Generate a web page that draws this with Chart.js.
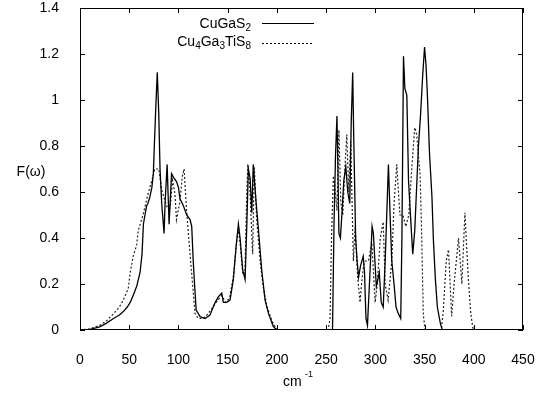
<!DOCTYPE html>
<html>
<head>
<meta charset="utf-8">
<script src="https://cdn.jsdelivr.net/npm/chart.js@4.4.1/dist/chart.umd.min.js"></script>
<style>
  html, body { margin: 0; padding: 0; background: #fff; }
  #c { display: block; }
</style>
</head>
<body>
<canvas id="c" width="539" height="394"></canvas>
<script>
// CuGaS2 (linha cheia)
const solidX = [0, 8, 12, 20, 27, 34, 40, 44, 48, 51, 54, 57.6, 61, 63, 64.4, 66, 67.7, 69, 71, 73, 74.5, 75.5, 77, 78.5, 80, 81.3, 83, 85.4, 86.4, 88.5, 90.5, 93, 95.5, 98, 100, 101.6, 105, 108.4, 111.8, 113.5, 115, 116.5, 118, 122, 127, 132, 137, 140.6, 144, 145.6, 149, 152.4, 155.8, 158.5, 160.9, 162.6, 165.3, 167.7, 169.4, 171, 172.8, 174.5, 176, 178.8, 181, 184.6, 188, 191.6, 196.4, 200,
  256.5, 258, 259.5, 261, 262, 263, 264.5, 266, 268, 270, 272, 274, 275.5, 277, 278, 280, 281.5, 283, 285, 287.7, 289, 290.5, 292, 294, 296.7, 298, 301, 304, 306, 308, 310, 313.3, 315, 316.7, 319, 321, 323.5, 325.8, 327, 328.6, 330, 332, 333.7, 335.4, 338, 340, 343.8, 346, 348, 350, 351.5, 353, 355, 357.5, 359, 361, 363, 366, 368];
const solidY = [0, 0, 0.005, 0.014, 0.03, 0.05, 0.065, 0.08, 0.1, 0.12, 0.15, 0.19, 0.25, 0.33, 0.46, 0.5, 0.54, 0.55, 0.58, 0.62, 0.68, 0.8, 0.97, 1.12, 0.94, 0.7, 0.55, 0.42, 0.55, 0.72, 0.46, 0.68, 0.66, 0.645, 0.62, 0.57, 0.54, 0.5, 0.48, 0.45, 0.3, 0.19, 0.087, 0.058, 0.05, 0.065, 0.117, 0.145, 0.16, 0.12, 0.12, 0.13, 0.22, 0.36, 0.46, 0.4, 0.26, 0.22, 0.45, 0.7, 0.66, 0.51, 0.72, 0.56, 0.45, 0.26, 0.13, 0.07, 0.015, 0,
  0, 0.45, 0.75, 0.93, 0.7, 0.42, 0.4, 0.5, 0.65, 0.71, 0.6, 0.55, 0.9, 1.12, 0.85, 0.4, 0.3, 0.23, 0.28, 0.32, 0.25, 0.05, 0.02, 0.2, 0.45, 0.42, 0.19, 0.25, 0.12, 0.1, 0.3, 0.72, 0.5, 0.3, 0.2, 0.1, 0.07, 0.05, 0.4, 1.19, 1.05, 1.02, 0.65, 0.52, 0.33, 0.43, 0.8, 0.94, 1.1, 1.23, 1.15, 1.01, 0.77, 0.58, 0.39, 0.22, 0.1, 0.03, 0];

// Cu4Ga3TiS8 (tracejado)
const dashX = [0, 10, 20, 27, 34, 40, 44, 49, 51, 54, 57.6, 59, 64, 69, 73, 76, 80, 83, 86.4, 88.7, 91.5, 94, 96.5, 98, 101.6, 104, 105.7, 108.4, 111.8, 114.5, 116.9, 120.3, 125, 130, 135, 140, 144, 148, 152, 156, 159, 161, 163, 165.5, 167.5, 169.4, 170.5, 172.5, 175.4, 177, 179.5, 183, 186, 190, 195, 200,
  252, 254, 255.5, 257.4, 259, 261, 263, 265, 267, 269, 271, 273, 275, 277.7, 279.5, 282, 284.5, 286, 288, 290, 293, 296.4, 299.8, 302, 305, 308, 310, 313, 316.7, 319, 321.8, 323.5, 325, 328, 331, 334, 337, 340, 342, 345.5, 347, 348.7, 350.5,
  367, 369, 372, 374.3, 376, 377.5, 380, 384.5, 387.9, 391, 394.5, 397, 399, 401];
const dashY = [0, 0.005, 0.02, 0.04, 0.07, 0.1, 0.13, 0.18, 0.25, 0.32, 0.37, 0.43, 0.5, 0.59, 0.65, 0.7, 0.7, 0.61, 0.56, 0.53, 0.53, 0.65, 0.59, 0.48, 0.56, 0.67, 0.7, 0.51, 0.33, 0.19, 0.07, 0.05, 0.05, 0.07, 0.1, 0.13, 0.15, 0.12, 0.14, 0.24, 0.38, 0.44, 0.36, 0.24, 0.25, 0.6, 0.72, 0.62, 0.33, 0.71, 0.48, 0.3, 0.19, 0.1, 0.04, 0,
  0, 0.05, 0.4, 0.67, 0.62, 0.52, 0.87, 0.55, 0.5, 0.7, 0.85, 0.6, 0.82, 0.3, 0.45, 0.23, 0.12, 0.2, 0.28, 0.3, 0.3, 0.38, 0.12, 0.2, 0.4, 0.47, 0.2, 0.13, 0.3, 0.55, 0.72, 0.6, 0.5, 0.5, 0.45, 0.5, 0.7, 0.88, 0.85, 0.67, 0.43, 0.07, 0,
  0, 0.08, 0.3, 0.35, 0.2, 0.06, 0.2, 0.4, 0.2, 0.51, 0.22, 0.07, 0.01, 0];

// nomes das séries (_n = subscrito)
const seriesNames = ['CuGaS_2', 'Cu_4Ga_3TiS_8'];
const xTicks = [0, 50, 100, 150, 200, 250, 300, 350, 400, 450];
const yTicks = [0, 0.2, 0.4, 0.6, 0.8, 1, 1.2, 1.4];

const FONT = '"Liberation Sans", Arial, Helvetica, sans-serif';

// escreve texto com subscritos, alinhado à direita em xRight
function drawRich(ctx, label, xRight, baseline) {
    const parts = [];
    let i = 0;
    while (i < label.length) {
        if (label[i] === '_') { parts.push({ t: label[i + 1], sub: true }); i += 2; }
        else {
            let j = i;
            while (j < label.length && label[j] !== '_') j++;
            parts.push({ t: label.slice(i, j), sub: false });
            i = j;
        }
    }
    let w = 0;
    parts.forEach(p => {
        ctx.font = (p.sub ? '10px ' : '14px ') + FONT;
        p.w = ctx.measureText(p.t).width;
        w += p.w;
    });
    let x = xRight - w;
    ctx.textAlign = 'left';
    ctx.textBaseline = 'alphabetic';
    parts.forEach(p => {
        ctx.font = (p.sub ? '10px ' : '14px ') + FONT;
        ctx.fillText(p.t, x, baseline + (p.sub ? 3 : 0));
        x += p.w;
    });
}

const moldura = {
    id: 'moldura',
    afterDraw(chart) {
        const { ctx, chartArea: a, scales: { x, y } } = chart;
        ctx.save();
        ctx.strokeStyle = '#000';
        ctx.lineWidth = 1;
        ctx.strokeRect(a.left + 0.5, a.top + 0.5, a.right - a.left - 1, a.bottom - a.top - 1);
        ctx.beginPath();
        xTicks.forEach(v => {
            const px = Math.round(x.getPixelForValue(v)) + 0.5;
            ctx.moveTo(px, a.bottom); ctx.lineTo(px, a.bottom - 5);
            ctx.moveTo(px, a.top); ctx.lineTo(px, a.top + 5);
        });
        yTicks.forEach(v => {
            const py = Math.round(y.getPixelForValue(v)) + 0.5;
            ctx.moveTo(a.left, py); ctx.lineTo(a.left + 5, py);
            ctx.moveTo(a.right, py); ctx.lineTo(a.right - 5, py);
        });
        ctx.stroke();

        // legenda
        ctx.fillStyle = '#000';
        drawRich(ctx, seriesNames[0], 251, 28);
        drawRich(ctx, seriesNames[1], 251, 46);
        ctx.beginPath();
        ctx.moveTo(262, 23.5); ctx.lineTo(314, 23.5);
        ctx.stroke();
        ctx.setLineDash([2, 2]);
        ctx.beginPath();
        ctx.moveTo(262, 43.5); ctx.lineTo(314, 43.5);
        ctx.stroke();
        ctx.setLineDash([]);

        // títulos dos eixos
        ctx.font = '14px ' + FONT;
        ctx.textAlign = 'center';
        ctx.textBaseline = 'middle';
        ctx.fillText('F(\u03c9)', 31, 172);
        ctx.textAlign = 'left';
        ctx.textBaseline = 'alphabetic';
        ctx.fillText('cm', 283, 386);
        ctx.font = '9px ' + FONT;
        ctx.fillText('-1', 305, 377);
        ctx.restore();
    }
};

new Chart(document.getElementById('c'), {
    type: 'line',
    data: {
        datasets: [
            {
                label: seriesNames[0],
                data: solidX.map((v, i) => ({ x: v, y: solidY[i] })),
                borderColor: '#000',
                borderWidth: 1.3,
                pointRadius: 0,
                tension: 0
            },
            {
                label: seriesNames[1],
                data: dashX.map((v, i) => ({ x: v, y: dashY[i] })),
                borderColor: '#222',
                borderWidth: 1.2,
                borderDash: [2, 2],
                pointRadius: 0,
                tension: 0
            }
        ]
    },
    options: {
        responsive: false,
        animation: false,
        layout: { padding: { left: 0, right: 16, top: 8, bottom: 0 } },
        plugins: { legend: { display: false }, tooltip: { enabled: false } },
        scales: {
            x: {
                type: 'linear', min: 0, max: 450,
                grid: { display: false },
                border: { display: false },
                afterFit: s => { s.height = 64; s.paddingLeft = 0; s.paddingRight = 0; },
                afterBuildTicks: s => { s.ticks = xTicks.map(v => ({ value: v })); },
                ticks: { color: '#000', padding: 14, maxRotation: 0, font: { family: FONT, size: 14 } }
            },
            y: {
                min: 0, max: 1.4,
                grid: { display: false },
                border: { display: false },
                afterFit: s => { s.width = 80; s.paddingTop = 0; s.paddingBottom = 0; },
                afterBuildTicks: s => { s.ticks = yTicks.map(v => ({ value: v })); },
                ticks: { color: '#000', padding: 13, font: { family: FONT, size: 14 },
                    callback: v => String(+v.toFixed(1)) }
            }
        }
    },
    plugins: [moldura]
});
</script>
</body>
</html>
